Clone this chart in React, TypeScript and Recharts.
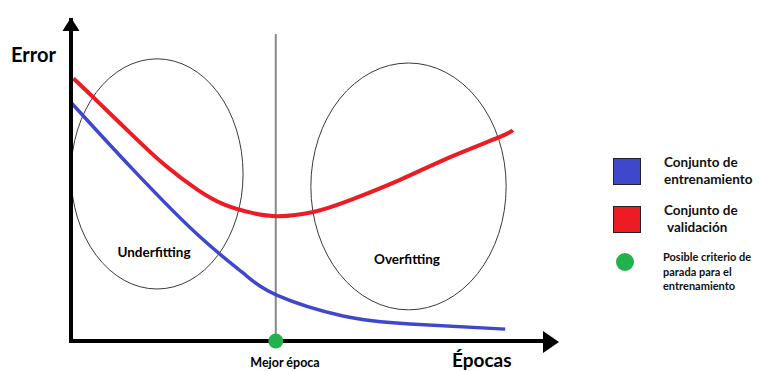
import React from "react";
import {
  ComposedChart,
  Line,
  XAxis,
  YAxis,
  ReferenceLine,
  ReferenceDot,
  ReferenceArea,
  Customized,
} from "recharts";

// curves (epochs 0-100, error 0-100)
const trainEpochs = [0.2, 12.9, 26.8, 36.3, 43.4, 57.4, 71.5, 91.6];
const trainError = [74.0, 53.7, 33.0, 21.2, 14.3, 7.8, 5.3, 3.7];

const valEpochs = [0.5, 5.7, 12.9, 19.8, 26.8, 32.5, 38.2, 43.7, 51.1, 58.9, 69.4, 80.0, 90.5, 93.2];
const valError = [81.8, 74.5, 64.2, 54.8, 47.0, 42.4, 39.9, 38.9, 40.2, 43.9, 50.2, 57.3, 63.6, 65.7];

const bestEpoch = 43.2;
const bestLineTop = 95.6;

const underfitX = [0, 36.3];
const underfitY = [16.2, 87.9];
const overfitX = [50.6, 91.8];
const overfitY = [9.7, 86.6];

const legendLabels = [
  ["Conjunto de", "entrenamiento"],
  ["Conjunto de", "validación"],
  ["Posible criterio de", "parada para el", "entrenamiento"],
];

const BLUE = "#3f48cc";
const RED = "#ed1c24";
const GREEN = "#22b14c";
const FONT = "Lato, 'Open Sans', sans-serif";

const trainData = trainEpochs.map((epoch, i) => ({ epoch, error: trainError[i] }));
const valData = valEpochs.map((epoch, i) => ({ epoch, error: valError[i] }));

const Ellipse = (props: any) => {
  const { x, y, width, height } = props;
  return (
    <ellipse
      cx={x + width / 2}
      cy={y + height / 2}
      rx={width / 2}
      ry={height / 2}
      fill="none"
      stroke="#3a3a3a"
      strokeWidth={1}
    />
  );
};

const ArrowUp = ({ cx, cy }: any) => (
  <polygon points={`${cx},${cy - 2.5} ${cx - 8.5},${cy + 11} ${cx + 8.5},${cy + 11}`} fill="#000" />
);

const ArrowRight = ({ cx, cy }: any) => (
  <polygon points={`${cx + 14},${cy + 1} ${cx - 2},${cy - 10} ${cx - 2},${cy + 12}`} fill="#000" />
);

const Titles = () => (
  <g fontFamily={FONT} fontWeight="bold" fill="#000">
    <text x={11} y={62} fontSize={20}>Error</text>
    <text x={452} y={367} fontSize={19}>Épocas</text>
    <text x={285} y={367} fontSize={12.5} textAnchor="middle">Mejor época</text>
    <text x={154} y={257} fontSize={13.5} textAnchor="middle">Underfitting</text>
    <text x={407} y={264} fontSize={13.5} textAnchor="middle">Overfitting</text>
  </g>
);

const LegendBox = () => {
  const text: React.CSSProperties = {
    position: "absolute",
    fontFamily: FONT,
    fontWeight: "bold",
    color: "#111",
    whiteSpace: "nowrap",
  };
  const square: React.CSSProperties = {
    position: "absolute",
    left: 8,
    width: 26,
    height: 25,
    border: "1px solid #222",
  };
  return (
    <div style={{ position: "absolute", left: 605, top: 150, width: 154, height: 150 }}>
      <div style={{ ...square, top: 8, background: BLUE }} />
      <div style={{ ...text, left: 59, top: 4, fontSize: 13.5, lineHeight: "17px" }}>
        {legendLabels[0].map((l) => <div key={l}>{l}</div>)}
      </div>
      <div style={{ ...square, top: 56, background: RED }} />
      <div style={{ ...text, left: 59, top: 52, fontSize: 13.5, lineHeight: "17px" }}>
        {legendLabels[1].map((l, i) => <div key={l} style={{ paddingLeft: i ? 3 : 0 }}>{l}</div>)}
      </div>
      <div
        style={{
          position: "absolute",
          left: 11,
          top: 103,
          width: 18,
          height: 18,
          borderRadius: "50%",
          background: GREEN,
        }}
      />
      <div style={{ ...text, left: 58, top: 100, fontSize: 11, lineHeight: "14.5px" }}>
        {legendLabels[2].map((l, i) => <div key={l + i}>{l}</div>)}
      </div>
    </div>
  );
};

export default function App() {
  return (
    <div style={{ position: "absolute", left: 0, top: 0, width: 759, height: 371, background: "#fff" }}>
      <ComposedChart width={759} height={371} margin={{ top: 20, right: 214, bottom: 0, left: 0 }}>
        <XAxis
          type="number"
          dataKey="epoch"
          domain={[0, 100]}
          height={30}
          tick={false}
          tickLine={false}
          axisLine={{ stroke: "#000", strokeWidth: 4, strokeLinecap: "square" }}
        />
        <YAxis
          type="number"
          dataKey="error"
          domain={[0, 100]}
          width={71}
          tick={false}
          tickLine={false}
          axisLine={{ stroke: "#000", strokeWidth: 4, strokeLinecap: "square" }}
        />
        <ReferenceArea x1={underfitX[0]} x2={underfitX[1]} y1={underfitY[0]} y2={underfitY[1]} shape={Ellipse} ifOverflow="visible" />
        <ReferenceArea x1={overfitX[0]} x2={overfitX[1]} y1={overfitY[0]} y2={overfitY[1]} shape={Ellipse} ifOverflow="visible" />
        <ReferenceLine
          segment={[{ x: bestEpoch, y: bestLineTop }, { x: bestEpoch, y: 0 }]}
          stroke="#888"
          strokeWidth={2}
          ifOverflow="visible"
        />
        <Line
          data={valData}
          dataKey="error"
          type="natural"
          stroke={RED}
          strokeWidth={4}
          dot={false}
          isAnimationActive={false}
        />
        <Line
          data={trainData}
          dataKey="error"
          type="natural"
          stroke={BLUE}
          strokeWidth={3.5}
          dot={false}
          isAnimationActive={false}
        />
        <ReferenceDot x={bestEpoch} y={0} r={7.5} fill={GREEN} stroke="none" ifOverflow="visible" />
        <ReferenceDot x={0} y={100} r={0} shape={ArrowUp} ifOverflow="visible" />
        <ReferenceDot x={100} y={0} r={0} shape={ArrowRight} ifOverflow="visible" />
        <Customized component={<Titles />} />
      </ComposedChart>
      <LegendBox />
    </div>
  );
}
